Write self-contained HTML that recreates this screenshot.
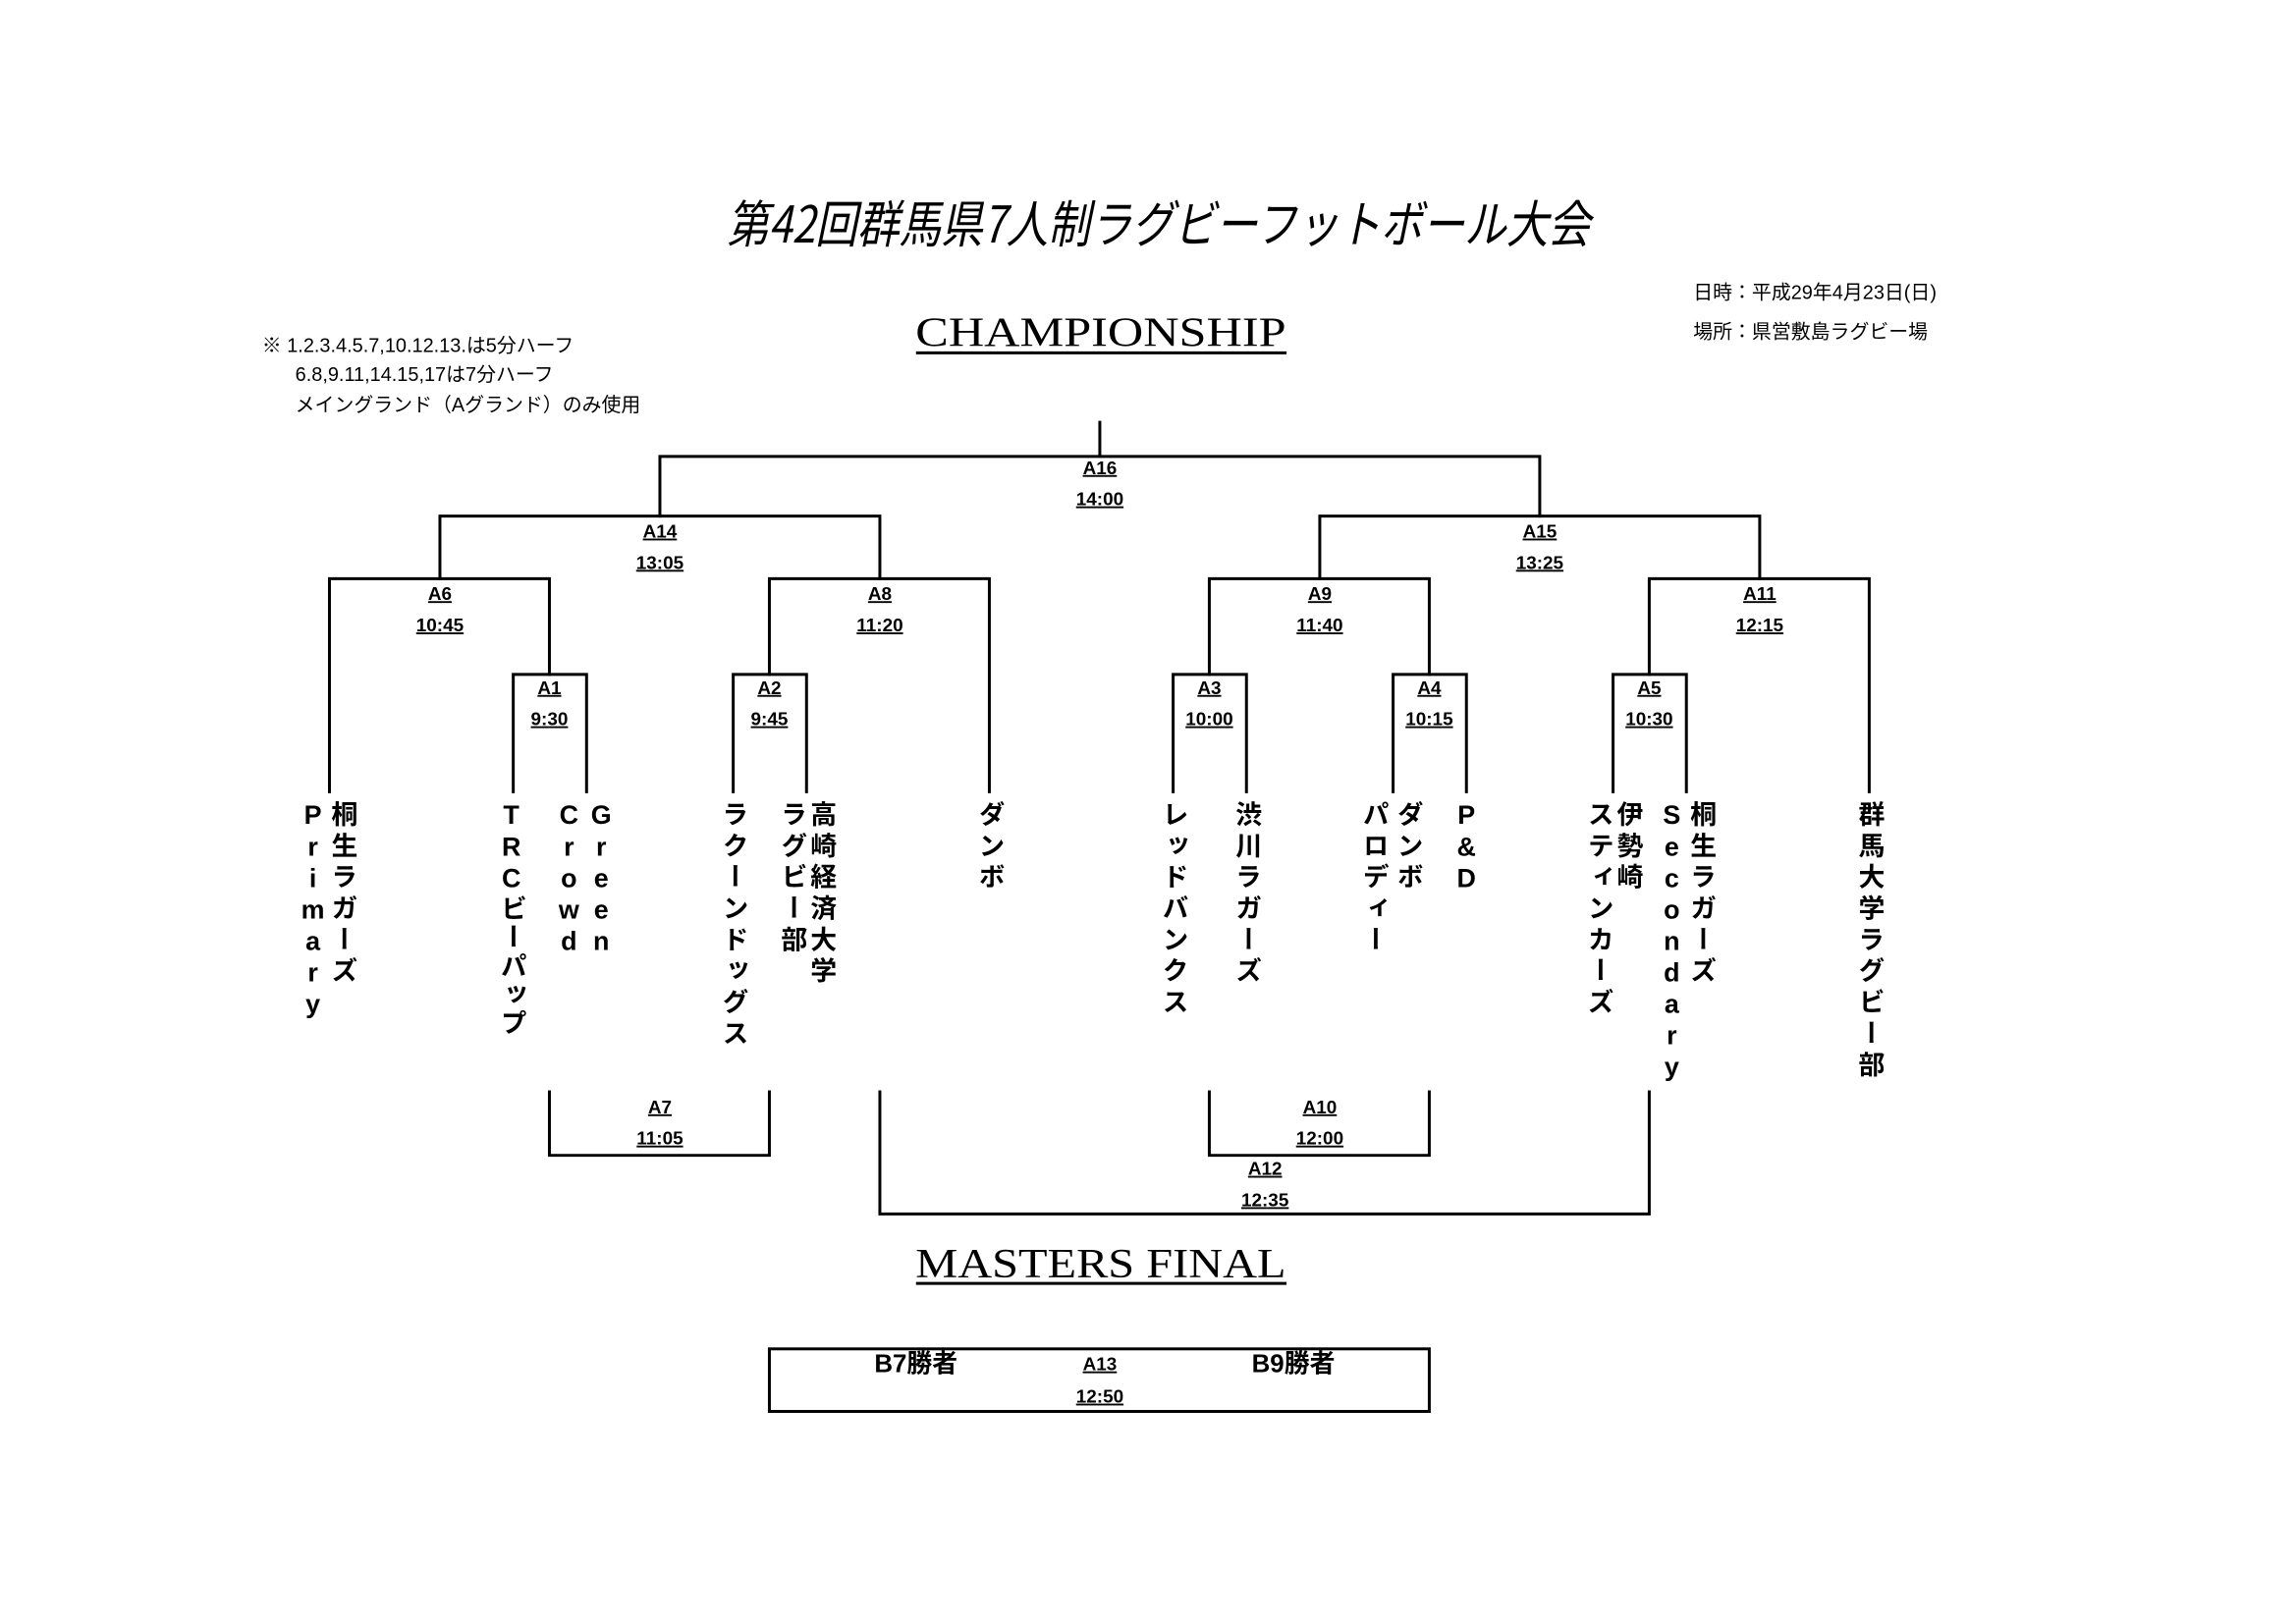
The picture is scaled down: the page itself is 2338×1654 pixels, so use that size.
<!DOCTYPE html>
<html><head><meta charset="utf-8"><style>
html,body{margin:0;padding:0;background:#fff;}
#outer{position:relative;width:2338px;height:1654px;overflow:hidden;}
#wrap{position:absolute;left:0;top:0;width:2338px;height:1654px;transform:scale(0.9955);transform-origin:0 0;}
svg{position:absolute;left:0;top:0;}
.t{position:absolute;top:819px;width:30px;writing-mode:vertical-rl;text-orientation:upright;font-family:"Liberation Sans","Noto Sans CJK JP",sans-serif;font-weight:bold;font-size:27px;letter-spacing:5px;line-height:30px;color:#000;}
.l{letter-spacing:2.2px;}
</style></head><body><div id="outer"><div id="wrap">
<svg width="2338" height="1654" viewBox="0 0 2338 1654" xmlns="http://www.w3.org/2000/svg">
<g stroke="#000" stroke-width="3" fill="none" stroke-linecap="square">
<path d="M1125 432V467M675 528V467H1575V528"/>
<path d="M450 592V528H900V592M1350 592V528H1800V592"/>
<path d="M337 810V592H562V690M787 690V592H1012V810"/>
<path d="M1237 690V592H1462V690M1687 690V592H1912V810"/>
<path d="M525 810V690H600V810M750 810V690H825V810M1200 810V690H1275V810M1425 810V690H1500V810M1650 810V690H1725V810"/>
<path d="M562 1117V1182H787V1117M1237 1117V1182H1462V1117M900 1117V1242H1687V1117"/>
<rect x="787" y="1380" width="675" height="64"/>
</g>
<g font-family="Liberation Sans, Noto Sans CJK JP, sans-serif">
<text x="1185" y="248" font-size="52" font-style="italic" text-anchor="middle" textLength="883" lengthAdjust="spacingAndGlyphs" font-family="Noto Sans CJK JP, sans-serif">第42回群馬県7人制ラグビーフットボール大会</text>
<text x="1732" y="306" font-size="20">日時：平成29年4月23日(日)</text>
<text x="1732" y="346" font-size="20">場所：県営敷島ラグビー場</text>
<text x="268" y="360" font-size="20">※ 1.2.3.4.5.7,10.12.13.は5分ハーフ</text>
<text x="302" y="390" font-size="20">6.8,9.11,14.15,17は7分ハーフ</text>
<text x="302" y="421" font-size="20">メイングランド（Aグランド）のみ使用</text>
</g>
<g font-family="Liberation Serif, serif" font-size="42">
<text x="1126" y="354" text-anchor="middle" textLength="379" lengthAdjust="spacingAndGlyphs">CHAMPIONSHIP</text>
<text x="1126" y="1307" text-anchor="middle" textLength="379" lengthAdjust="spacingAndGlyphs">MASTERS FINAL</text>
</g>
<g stroke="#000" stroke-width="3"><path d="M937 361H1316M937 1313H1316"/></g>
<g font-family="Liberation Sans, sans-serif" font-weight="bold" font-size="19" text-anchor="middle" text-decoration="underline">
<text x="1125" y="485">A16</text><text x="1125" y="517">14:00</text>
<text x="675" y="550">A14</text><text x="675" y="582">13:05</text>
<text x="1575" y="550">A15</text><text x="1575" y="582">13:25</text>
<text x="450" y="614">A6</text><text x="450" y="646">10:45</text>
<text x="900" y="614">A8</text><text x="900" y="646">11:20</text>
<text x="1350" y="614">A9</text><text x="1350" y="646">11:40</text>
<text x="1800" y="614">A11</text><text x="1800" y="646">12:15</text>
<text x="562" y="710">A1</text><text x="562" y="742">9:30</text>
<text x="787" y="710">A2</text><text x="787" y="742">9:45</text>
<text x="1237" y="710">A3</text><text x="1237" y="742">10:00</text>
<text x="1462" y="710">A4</text><text x="1462" y="742">10:15</text>
<text x="1687" y="710">A5</text><text x="1687" y="742">10:30</text>
<text x="675" y="1139">A7</text><text x="675" y="1171">11:05</text>
<text x="1350" y="1139">A10</text><text x="1350" y="1171">12:00</text>
<text x="1294" y="1202">A12</text><text x="1294" y="1234">12:35</text>
<text x="1125" y="1402">A13</text><text x="1125" y="1435">12:50</text>
</g>
<g font-family="Liberation Sans, Noto Sans CJK JP, sans-serif" font-weight="bold" font-size="26" text-anchor="middle">
<text x="937" y="1404">B7勝者</text><text x="1323" y="1404">B9勝者</text>
</g>
</svg>
<div class="t l" style="left:305px">Primary</div>
<div class="t" style="left:335px">桐生ラガーズ</div>
<div class="t l" style="left:508px">TRCビーパップ</div>
<div class="t l" style="left:567px">Crowd</div>
<div class="t l" style="left:600px">Green</div>
<div class="t" style="left:735px">ラクーンドッグス</div>
<div class="t" style="left:795px">ラグビー部</div>
<div class="t" style="left:825px">高崎経済大学</div>
<div class="t" style="left:997px">ダンボ</div>
<div class="t" style="left:1185px">レッドバンクス</div>
<div class="t" style="left:1260px">渋川ラガーズ</div>
<div class="t" style="left:1390px">パロディー</div>
<div class="t" style="left:1425px">ダンボ</div>
<div class="t l" style="left:1485px">P&amp;D</div>
<div class="t" style="left:1620px">スティンカーズ</div>
<div class="t" style="left:1650px">伊勢崎</div>
<div class="t l" style="left:1695px">Secondary</div>
<div class="t" style="left:1725px">桐生ラガーズ</div>
<div class="t" style="left:1897px">群馬大学ラグビー部</div>
</div></div></body></html>
